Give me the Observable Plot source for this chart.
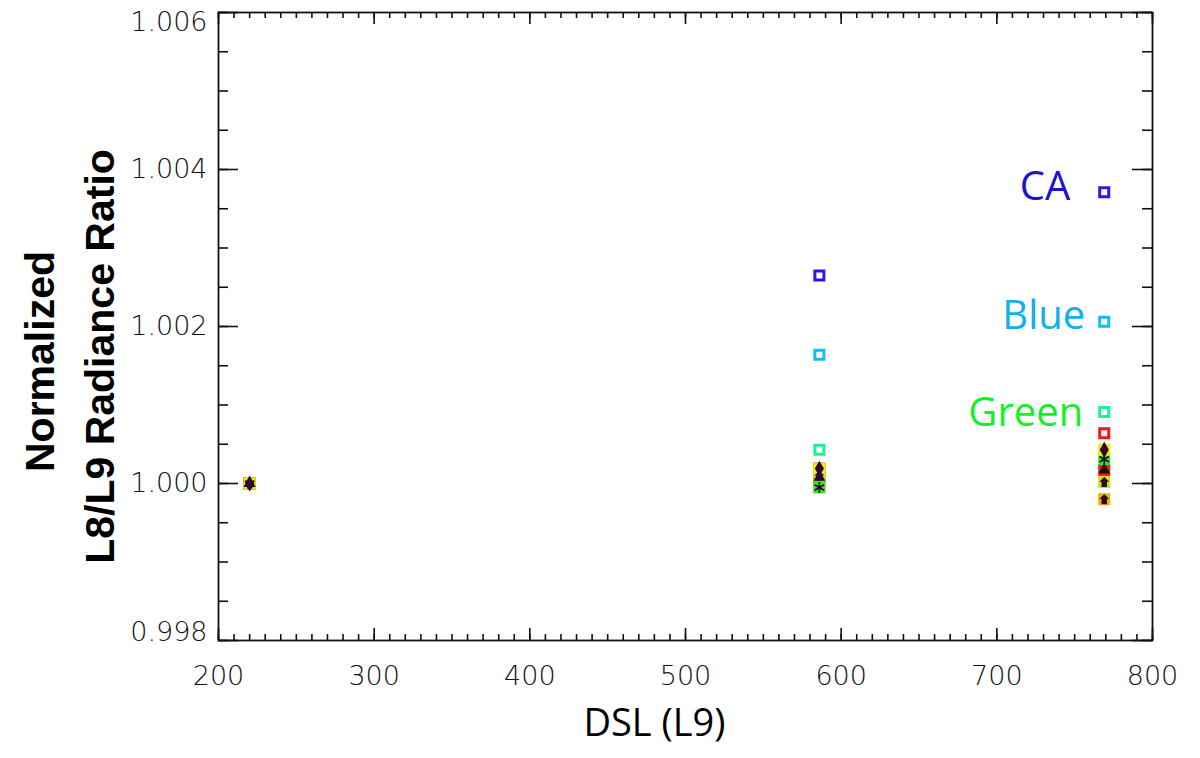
<!DOCTYPE html>
<html>
<head>
<meta charset="utf-8">
<script src="https://cdn.jsdelivr.net/npm/d3@7"></script>
<script src="https://cdn.jsdelivr.net/npm/@observablehq/plot@0.6"></script>
<style>
  html, body { margin: 0; padding: 0; background: #ffffff; }
  #chart svg { display: block; }
</style>
</head>
<body>
<div id="chart"></div>
<script>
// ---------------- data ----------------
const dsl = [220, 586, 769];                       // DSL (L9) of each acquisition
const ratioCA     = [1.00000, 1.00265, 1.00371];
const ratioBlue   = [1.00000, 1.00164, 1.00206];
const ratioGreen  = [1.00000, 1.00043, 1.00091];
const ratioRed    = [1.00000, 1.00019, 1.00064];
const ratioNIR    = [1.00000, 1.00019, 1.00043];
const ratioSWIR1  = [1.00000, 0.99995, 1.00031];
const ratioSWIR2  = [1.00000, 1.00008, 1.00017];
const ratioPan    = [1.00000, 1.00010, 1.00002];
const ratioCirrus = [1.00000, 0.99996, 0.99980];

const xTickLabels = [200, 300, 400, 500, 600, 700, 800];
const yTickLabels = [0.998, 1.000, 1.002, 1.004, 1.006];
const bandLabels  = ["CA", "Blue", "Green"];

// ---------------- table built from the arrays ----------------
const rows = (name, vals) => dsl.map((x, i) => ({band: name, dsl: x, ratio: vals[i]}));
const CA = rows("CA", ratioCA), Blue = rows("Blue", ratioBlue), Green = rows("Green", ratioGreen),
      Red = rows("Red", ratioRed), NIR = rows("NIR", ratioNIR), SWIR1 = rows("SWIR1", ratioSWIR1),
      SWIR2 = rows("SWIR2", ratioSWIR2), Pan = rows("Pan", ratioPan), Cirrus = rows("Cirrus", ratioCirrus);

// tick positions (axis furniture)
const xMinor = d3.range(200, 801, 10);
const yMinor = d3.range(0, 17).map(i => 0.998 + i * 0.0005);

// ---------------- layout ----------------
const W = 1200, H = 758;
const mL = 218, mR = 48, mT = 12, mB = 118;
const pw = W - mL - mR, ph = H - mT - mB;
const axisCol = "#111";

// house-shaped glyph
const house = {
  draw(ctx, size) {
    const s = Math.sqrt(size) / 2;
    ctx.moveTo(0, -s);
    ctx.lineTo(s, -s * 0.05);
    ctx.lineTo(s * 0.55, -s * 0.05);
    ctx.lineTo(s * 0.55, s);
    ctx.lineTo(-s * 0.55, s);
    ctx.lineTo(-s * 0.55, -s * 0.05);
    ctx.lineTo(-s, -s * 0.05);
    ctx.closePath();
  }
};

const glyph = "#2c0532";
const tickFont = {fontFamily: "DejaVu Sans", fontWeight: 200, fontSize: 27, fill: "#111"};

const chart = Plot.plot({
  width: W, height: H,
  marginLeft: mL, marginRight: mR, marginTop: mT, marginBottom: mB,
  x: {domain: [200, 800], axis: null},
  y: {domain: [0.998, 1.006], axis: null},
  style: {background: "#ffffff", overflow: "visible"},
  marks: [
    // ticks: bottom / top (minor & major), left / right (minor & major)
    Plot.tickX(xMinor, {x: d => d, stroke: axisCol, strokeWidth: 1.6, insetTop: ph - 6}),
    Plot.tickX(xTickLabels, {x: d => d, stroke: axisCol, strokeWidth: 1.6, insetTop: ph - 12}),
    Plot.tickX(xMinor, {x: d => d, stroke: axisCol, strokeWidth: 1.6, insetBottom: ph - 6}),
    Plot.tickX(xTickLabels, {x: d => d, stroke: axisCol, strokeWidth: 1.6, insetBottom: ph - 12}),
    Plot.tickY(yMinor, {y: d => d, stroke: axisCol, strokeWidth: 1.6, insetRight: pw - 10}),
    Plot.tickY(yTickLabels, {y: d => d, stroke: axisCol, strokeWidth: 1.6, insetRight: pw - 20}),
    Plot.tickY(yMinor, {y: d => d, stroke: axisCol, strokeWidth: 1.6, insetLeft: pw - 10}),
    Plot.tickY(yTickLabels, {y: d => d, stroke: axisCol, strokeWidth: 1.6, insetLeft: pw - 20}),
    Plot.frame({stroke: axisCol, strokeWidth: 1.8}),

    // tick labels
    Plot.text(xTickLabels, {x: d => d, frameAnchor: "bottom", dy: 25, lineAnchor: "top",
      text: d => String(d), textAnchor: "middle", ...tickFont}),
    Plot.text(yTickLabels.slice(1, 4), {y: d => d, frameAnchor: "left", dx: -11, textAnchor: "end",
      text: d => d3.format(".3f")(d), ...tickFont}),
    Plot.text(yTickLabels.slice(4), {y: d => d, frameAnchor: "left", dx: -11, dy: 10, textAnchor: "end",
      text: d => d3.format(".3f")(d), ...tickFont}),
    Plot.text(yTickLabels.slice(0, 1), {y: d => d, frameAnchor: "left", dx: -11, dy: -8, textAnchor: "end",
      text: d => d3.format(".3f")(d), ...tickFont}),

    // axis titles
    Plot.text(["DSL (L9)"], {frameAnchor: "bottom", dx: -31, dy: 95, text: d => d, textAnchor: "middle",
      fontFamily: "Open Sans", fontSize: 38, fill: "#000"}),
    Plot.text(["Normalized"], {frameAnchor: "left", dx: -178, dy: 35, rotate: -90, text: d => d,
      textAnchor: "middle", fontFamily: "Liberation Sans", fontWeight: "bold", fontSize: 41, fill: "#000"}),
    Plot.text(["L8/L9 Radiance Ratio"], {frameAnchor: "left", dx: -118, dy: 30, rotate: -90, text: d => d,
      textAnchor: "middle", fontFamily: "Liberation Sans", fontWeight: "bold", fontSize: 41, fill: "#000"}),

    // outlined squares
    Plot.dot(CA,    {x: "dsl", y: "ratio", symbol: "square", r: 5.1, fill: "none", stroke: "#3412ee", strokeWidth: 3}),
    Plot.dot(Blue,  {x: "dsl", y: "ratio", symbol: "square", r: 5.1, fill: "none", stroke: "#14bcf8", strokeWidth: 3}),
    Plot.dot(Green, {x: "dsl", y: "ratio", symbol: "square", r: 5.1, fill: "none", stroke: "#1ef096", strokeWidth: 3}),
    Plot.dot(Red,   {x: "dsl", y: "ratio", symbol: "square", r: 5.1, fill: "none", stroke: "#f41414", strokeWidth: 3}),

    // Cirrus (drawn first among filled markers)
    Plot.dot(Cirrus, {x: "dsl", y: "ratio", symbol: "square", r: 6.8, fill: "#f2b000"}),
    Plot.dot(Cirrus, {x: "dsl", y: "ratio", symbol: house, r: 5.6, fill: glyph}),

    // filled background squares
    Plot.dot(SWIR2,  {x: "dsl", y: "ratio", symbol: "square", r: 6.8, fill: "#f21a12"}),
    Plot.dot(Pan,    {x: "dsl", y: "ratio", symbol: "square", r: 6.8, fill: "#c4e61a"}),
    Plot.dot(SWIR1,  {x: "dsl", y: "ratio", symbol: "square", r: 6.8, fill: "#33e82a"}),
    Plot.dot(NIR,    {x: "dsl", y: "ratio", symbol: "square", r: 6.8, fill: "#f4ee00"}),

    // dark glyphs
    Plot.dot(SWIR2,  {x: "dsl", y: "ratio", symbol: "triangle", r: 4.4, fill: "#111"}),
    Plot.dot(Pan,    {x: "dsl", y: "ratio", symbol: house, r: 5.6, fill: glyph}),
    Plot.dot(SWIR1,  {x: "dsl", y: "ratio", symbol: "asterisk", r: 5.2, fill: "none", stroke: glyph, strokeWidth: 1.7}),
    Plot.dot(NIR,    {x: "dsl", y: "ratio", symbol: "diamond", r: 4.8, fill: glyph}),

    // band labels next to the last points
    Plot.text(bandLabels.slice(0, 1), {x: () => dsl[2], y: () => ratioCA[2], dx: -34, dy: -5,
      text: d => d, textAnchor: "end", fontFamily: "Open Sans", fontSize: 40, fill: "#1e12d2"}),
    Plot.text(bandLabels.slice(1, 2), {x: () => dsl[2], y: () => ratioBlue[2], dx: -19, dy: -6,
      text: d => d, textAnchor: "end", fontFamily: "Open Sans", fontSize: 40, fill: "#12b0f0"}),
    Plot.text(bandLabels.slice(2, 3), {x: () => dsl[2], y: () => ratioGreen[2], dx: -21, dy: 1,
      text: d => d, textAnchor: "end", fontFamily: "Open Sans", fontSize: 40, fill: "#14f024"})
  ]
});

document.getElementById("chart").appendChild(chart);
</script>
</body>
</html>
